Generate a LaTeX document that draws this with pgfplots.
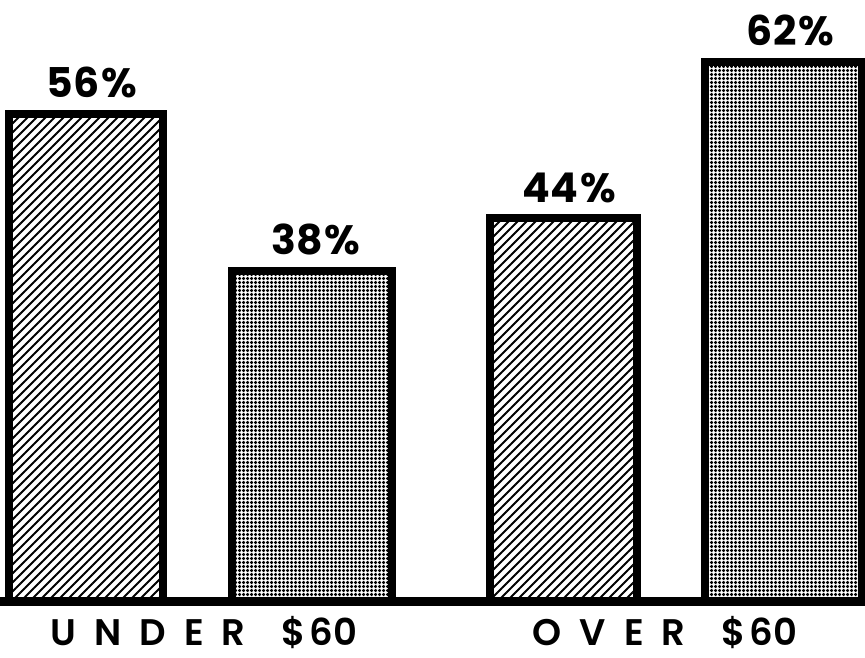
\documentclass[border=0pt]{standalone}
\usepackage{pgfplots}
\pgfplotsset{compat=1.18}
\usepackage{fontspec}
\setmainfont{Poppins}
\newfontfamily\captionfont{Poppins}[UprightFont=* SemiBold, BoldFont=* Bold]
\usetikzlibrary{patterns.meta}

% spaced-out category captions
\newcommand{\gap}{\hspace{18pt}}

\begin{document}
\begin{tikzpicture}
\begin{axis}[
  at={(0,0)}, anchor=south west,
  scale only axis, width=865pt, height=658pt,
  xmin=0, xmax=865, ymin=-6.425, ymax=69.07,
  axis lines=none, xtick=\empty, ytick=\empty,
  /pgf/number format/assume math mode=true,
  ybar, bar shift=0pt,
  nodes near coords={\pgfmathprintnumber{\pgfplotspointmeta}\hspace{2pt}\%},
  every node near coord/.append style={anchor=base, inner sep=0pt, yshift=16pt,
    font=\captionfont\bfseries\fontsize{41}{43}\selectfont, text=black},
  clip=false,
]
% under $60: hatched (56 %) and fine grid (38 %)
\addplot[draw=black, line width=8pt, bar width=154,
  pattern={Lines[angle=45, distance=6.364pt, line width=1.8pt]},
  every node near coord/.append style={xshift=6pt}]
  coordinates {(86,56)};
\addplot[draw=black, line width=8pt, bar width=160,
  pattern={Hatch[angle=0, distance=4pt, line width=1.6pt]},
  every node near coord/.append style={xshift=4pt}]
  coordinates {(312,38)};
% over $60
\addplot[draw=black, line width=8pt, bar width=147,
  pattern={Lines[angle=45, distance=6.364pt, line width=1.8pt]},
  every node near coord/.append style={xshift=6pt}]
  coordinates {(563.5,44)};
\addplot[draw=black, line width=8pt, bar width=157,
  pattern={Hatch[angle=0, distance=4pt, line width=1.6pt]},
  every node near coord/.append style={xshift=7pt}]
  coordinates {(783.5,62)};
% baseline
\addplot[sharp plot, draw=black, line width=9pt, nodes near coords={}, forget plot]
  coordinates {(0,0) (865,0)};
\node[anchor=base, inner sep=0pt, font=\captionfont\fontsize{37}{40}\selectfont]
  at (axis cs:204,-5.0) {U\gap N\gap D\gap E\gap R\hspace{36pt}\$\hspace{4pt}60};
\node[anchor=base, inner sep=0pt, font=\captionfont\fontsize{37}{40}\selectfont]
  at (axis cs:665,-5.0) {O\gap V\gap E\gap R\hspace{36pt}\$\hspace{4pt}60};
\end{axis}
\pgfresetboundingbox
\path (0,0) rectangle (865pt,658pt);
\end{tikzpicture}
\end{document}
